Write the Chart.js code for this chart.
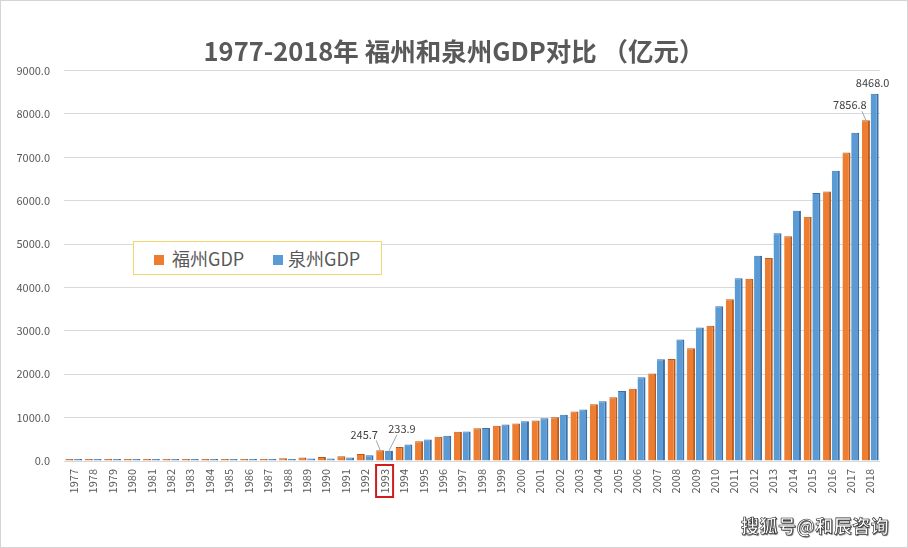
<!DOCTYPE html>
<html>
<head>
<meta charset="utf-8">
<script src="https://cdn.jsdelivr.net/npm/chart.js@4/dist/chart.umd.min.js"></script>
<style>
  body { margin: 0; background: #fff; }
  #wrap { position: relative; width: 908px; height: 548px; }
  #frame { position: absolute; left: 0; top: 0; width: 906px; height: 546px; border: 1px solid #d4d4d4; pointer-events: none; }
  #legend { position: absolute; left: 133px; top: 241px; width: 247px; height: 32px; border: 1px solid #f2d66b; background: #fff;
            font-family: "Noto Sans CJK SC", sans-serif; font-size: 18px; color: #595959; }
  #legend .sq { position: absolute; top: 13px; width: 10px; height: 10px; }
  #legend .tx { position: absolute; top: 3px; line-height: 26px; }
  #mark { position: absolute; left: 741px; top: 512px; font-family: "Noto Sans CJK SC", sans-serif; font-weight: bold; font-size: 18px;
          color: #fff; -webkit-text-stroke: 0.6px #222; text-shadow: 1px 1px 1px #666; letter-spacing: 0.5px; }
</style>
</head>
<body>
<div id="wrap">
  <canvas id="grafico" width="908" height="548"></canvas>
  <div id="legend">
    <div class="sq" style="left:20px;background:#ED7D31"></div><div class="tx" style="left:38px">福州GDP</div>
    <div class="sq" style="left:139px;background:#5B9BD5"></div><div class="tx" style="left:154px">泉州GDP</div>
  </div>
  <div id="mark">搜狐号@和辰咨询</div>
  <div id="frame"></div>
</div>
<script>
// Anos e valores (亿元)
const anos = [];
for (let a = 1977; a <= 2018; a++) anos.push(String(a));

const fuzhou = [10, 11, 12, 13, 14, 15, 17, 20, 28, 35, 42, 65, 80, 90, 110, 160,
  245.7, 325, 455, 561, 675, 757, 811, 864, 932, 1007, 1144, 1310, 1470, 1665,
  2020, 2350, 2600, 3120, 3730, 4200, 4680, 5180, 5630, 6210, 7110, 7856.8];
const quanzhou = [6, 7, 8, 9, 10, 11, 13, 16, 22, 26, 32, 48, 55, 58, 80, 135,
  233.9, 380, 493, 584, 680, 760, 841, 916, 985, 1068, 1185, 1380, 1615, 1930,
  2345, 2800, 3075, 3565, 4215, 4730, 5250, 5770, 6180, 6690, 7570, 8468.0];

const yTicks = [0, 1000, 2000, 3000, 4000, 5000, 6000, 7000, 8000, 9000];

// rótulos de dados mostrados no gráfico original
const rotulos = [
  { ds: 0, ano: '1993', dx: -16, dy: -16, linha: true },
  { ds: 1, ano: '1993', dx: 13, dy: -22, linha: true },
  { ds: 0, ano: '2018', dx: -16, dy: -15, linha: true },
  { ds: 1, ano: '2018', dx: -2, dy: -11, linha: false }
];

const fonte = '"Noto Sans CJK SC", "Open Sans", sans-serif';

const pluginRotulos = {
  id: 'rotulos',
  afterDatasetsDraw(chart) {
    const ctx = chart.ctx;
    ctx.save();
    ctx.font = '11px ' + fonte;
    ctx.fillStyle = '#404040';
    ctx.textAlign = 'center';
    ctx.textBaseline = 'middle';
    rotulos.forEach(r => {
      const i = anos.indexOf(r.ano);
      const el = chart.getDatasetMeta(r.ds).data[i];
      const v = chart.data.datasets[r.ds].data[i];
      const tx = el.x + r.dx, ty = el.y + r.dy;
      ctx.fillText(v.toFixed(1), tx, ty);
      if (r.linha) {
        ctx.strokeStyle = '#a6a6a6';
        ctx.lineWidth = 1;
        ctx.beginPath();
        if (r.dx < 0) ctx.moveTo(tx + 12, ty + 6);
        else ctx.moveTo(tx - 5, ty + 6);
        ctx.lineTo(el.x, el.y);
        ctx.stroke();
      }
    });
    // caixa vermelha em volta do ano 1993
    const x = chart.scales.x.getPixelForValue(anos.indexOf('1993'));
    const b = chart.scales.x.top;
    ctx.strokeStyle = '#d01c1c';
    ctx.lineWidth = 2;
    ctx.strokeRect(x - 8.5, b + 4, 17, 32);
    ctx.restore();
  }
};

const ctx = document.getElementById('grafico').getContext('2d');
new Chart(ctx, {
  type: 'bar',
  data: {
    labels: anos,
    datasets: [{
      label: '福州GDP',
      data: fuzhou,
      backgroundColor: '#ED7D31',
      borderColor: '#B95A1A',
      borderWidth: { right: 2, top: 1 },
      borderSkipped: 'start',
      minBarLength: 2,
      categoryPercentage: 0.9,
      barPercentage: 0.92
    }, {
      label: '泉州GDP',
      data: quanzhou,
      backgroundColor: '#5B9BD5',
      borderColor: '#3B6FA6',
      borderWidth: { right: 2, top: 1 },
      borderSkipped: 'start',
      minBarLength: 2,
      categoryPercentage: 0.9,
      barPercentage: 0.92
    }]
  },
  options: {
    responsive: false,
    animation: false,
    layout: { padding: 0 },
    plugins: {
      legend: { display: false },
      tooltip: { enabled: false },
      title: {
        display: true,
        text: '1977-2018年 福州和泉州GDP对比 （亿元）',
        color: '#595959',
        font: { family: fonte, size: 25.5, weight: 'bold' },
        padding: { top: 36, bottom: 4 }
      }
    },
    scales: {
      x: {
        grid: { display: false, drawTicks: false },
        border: { display: false },
        ticks: {
          color: '#595959',
          font: { family: fonte, size: 11 },
          minRotation: 90,
          maxRotation: 90,
          autoSkip: false,
          padding: 8
        },
        afterFit(s) { s.height = 87; }
      },
      y: {
        min: 0,
        max: 9000,
        afterBuildTicks(s) { s.ticks = yTicks.map(v => ({ value: v })); },
        grid: { color: '#d9d9d9', drawTicks: false },
        border: { display: false },
        ticks: {
          color: '#595959',
          font: { family: fonte, size: 11 },
          padding: 14,
          callback: v => v.toFixed(1)
        },
        afterFit(s) { s.width = 64; }
      },
      // eixo vazio à direita só para reservar a margem
      margem: {
        axis: 'y',
        position: 'right',
        min: 0,
        max: 9000,
        grid: { display: false, drawTicks: false },
        border: { display: false },
        ticks: { display: false },
        afterFit(s) { s.width = 28; }
      }
    }
  },
  plugins: [pluginRotulos]
});
</script>
</body>
</html>
